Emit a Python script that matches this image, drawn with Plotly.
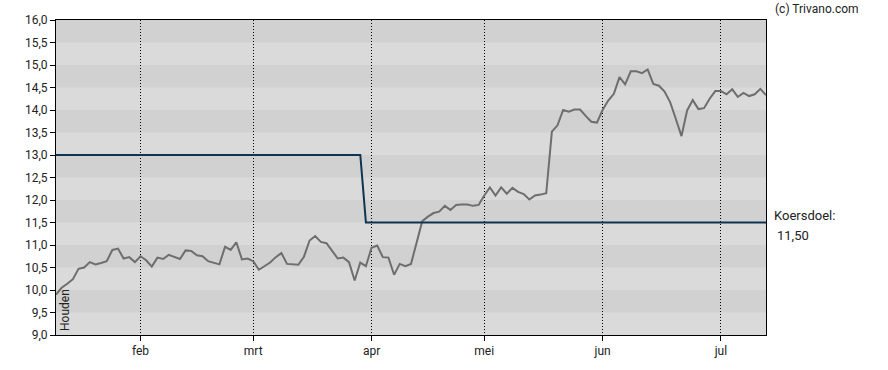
import plotly.graph_objects as go

# Trading-day series (index based axis)
koers = [9.90, 10.05, 10.14, 10.24, 10.47, 10.50, 10.62, 10.57, 10.60, 10.64,
         10.89, 10.92, 10.70, 10.73, 10.62, 10.75, 10.66, 10.52, 10.72, 10.69,
         10.78, 10.73, 10.69, 10.88, 10.87, 10.77, 10.75, 10.64, 10.60, 10.57,
         10.96, 10.89, 11.06, 10.68, 10.70, 10.64, 10.45, 10.53, 10.61, 10.73,
         10.82, 10.58, 10.57, 10.56, 10.74, 11.10, 11.20, 11.07, 11.04, 10.88,
         10.70, 10.72, 10.62, 10.21, 10.61, 10.53, 10.94, 10.99, 10.73, 10.72,
         10.34, 10.58, 10.53, 10.58, 11.05, 11.53, 11.63, 11.71, 11.74, 11.87,
         11.78, 11.89, 11.90, 11.90, 11.87, 11.89, 12.10, 12.28, 12.10, 12.28,
         12.14, 12.27, 12.18, 12.13, 12.01, 12.10, 12.12, 12.15, 13.52, 13.66,
         14.00, 13.96, 14.01, 14.01, 13.87, 13.74, 13.72, 14.00, 14.21, 14.36,
         14.73, 14.57, 14.86, 14.86, 14.82, 14.90, 14.58, 14.54, 14.41, 14.17,
         13.80, 13.42, 13.99, 14.22, 14.02, 14.04, 14.25, 14.42, 14.42, 14.35,
         14.46, 14.29, 14.38, 14.31, 14.35, 14.47, 14.33]
koersdoel = [13.0] * 55 + [11.5] * 72

maand_idx = [15, 35, 56, 76, 97, 118]
maand_labels = ["feb", "mrt", "apr", "mei", "jun", "jul"]

y_vals = [9.0 + 0.5 * k for k in range(15)]
y_labels = [f"{v:.1f}".replace(".", ",") for v in y_vals]

x = list(range(len(koers)))

FONT = "Roboto, Arial, sans-serif"
TXT = "#222222"

fig = go.Figure()
fig.add_trace(go.Scatter(x=x, y=koers, mode="lines",
                         line=dict(color="#6e6e6e", width=2), hoverinfo="skip"))
fig.add_trace(go.Scatter(x=x, y=koersdoel, mode="lines",
                         line=dict(color="#0d3553", width=2), hoverinfo="skip"))

shapes = []
for k in range(7):
    lo = 9.5 + k
    shapes.append(dict(type="rect", xref="paper", yref="y", x0=0, x1=1,
                       y0=lo, y1=lo + 0.5, fillcolor="#d1d1d1",
                       line=dict(width=0), layer="below"))

fig.update_layout(
    width=888, height=370,
    margin=dict(l=56, r=122, t=20, b=35),
    paper_bgcolor="white", plot_bgcolor="#dadada",
    showlegend=False,
    shapes=shapes,
    font=dict(family=FONT, size=12, color=TXT),
    xaxis=dict(range=[0, len(koers) - 1], tickvals=maand_idx, ticktext=maand_labels,
               showgrid=True, gridcolor="black", griddash="1px,2px", gridwidth=1,
               showline=True, linecolor="black", linewidth=1, mirror=True,
               ticks="outside", ticklen=5, tickcolor="black", zeroline=False,
               tickfont=dict(family=FONT, size=12, color=TXT)),
    yaxis=dict(range=[9, 16], tickvals=y_vals, ticktext=y_labels,
               showgrid=False, showline=True, linecolor="black", linewidth=1,
               mirror=True, ticks="outside", ticklen=5, tickcolor="black",
               zeroline=False, tickfont=dict(family=FONT, size=12, color=TXT)),
    annotations=[
        dict(text="(c) Trivano.com", xref="paper", yref="paper", x=1.01, y=1.0,
             xanchor="left", yanchor="bottom", yshift=2, showarrow=False,
             font=dict(family=FONT, size=12, color=TXT)),
        dict(text="Koersdoel:", xref="paper", yref="y", x=1.0, y=11.5,
             xanchor="left", yanchor="bottom", xshift=6, yshift=-2, showarrow=False,
             font=dict(family=FONT, size=13, color=TXT)),
        dict(text="11,50", xref="paper", yref="y", x=1.0, y=11.5,
             xanchor="left", yanchor="top", xshift=9, yshift=-3, showarrow=False,
             font=dict(family=FONT, size=13, color=TXT)),
        dict(text="Houden", xref="paper", yref="paper", x=0, y=0,
             xanchor="left", yanchor="bottom", xshift=0, yshift=2, textangle=-90,
             showarrow=False, font=dict(family=FONT, size=12, color=TXT)),
    ],
)

fig.write_html("out.html")
